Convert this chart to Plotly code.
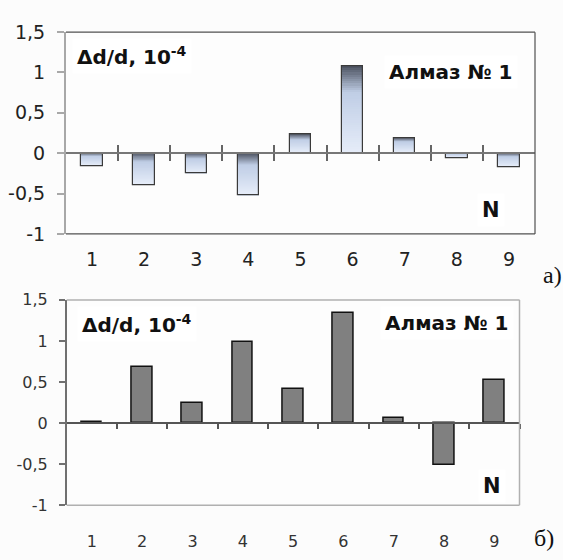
import plotly.graph_objects as go

# Interplanar spacing change per sample point, units of 1e-4
categories = [1, 2, 3, 4, 5, 6, 7, 8, 9]
values_a = [-0.16, -0.39, -0.25, -0.52, 0.23, 1.08, 0.19, -0.06, -0.17]
values_b = [0.02, 0.68, 0.245, 0.99, 0.42, 1.34, 0.067, -0.51, 0.53]

y_tickvals = [-1, -0.5, 0, 0.5, 1, 1.5]
y_ticktext = ["-1", "-0,5", "0", "0,5", "1", "1,5"]
x_ticktext = [str(c) for c in categories]
y_range = [-1, 1.5]

W, H = 563, 560
dom_a_x = [66 / W, 535 / W]
dom_a_y = [(H - 232) / H, (H - 22) / H]
dom_b_x = [66.7 / W, 519.5 / W]
dom_b_y = [(H - 514.4) / H, (H - 300.7) / H]

BAR_W = 0.41
FONT = "DejaVu Sans, Verdana, sans-serif"


def zero_pos(dom):
    return dom[0] + (0 - y_range[0]) / (y_range[1] - y_range[0]) * (dom[1] - dom[0])


def lerp_hex(c1, c2, t):
    a = [int(c1[i:i + 2], 16) for i in (1, 3, 5)]
    b = [int(c2[i:i + 2], 16) for i in (1, 3, 5)]
    return "rgb(%d,%d,%d)" % tuple(round(a[j] + (b[j] - a[j]) * t) for j in range(3))


def shade(t):
    # dark slate at the top of each bar fading to pale blue at the bottom
    stops = [(0.0, "#4a505e"), (0.3, "#bfcde5"), (1.0, "#e6edf9")]
    for (t0, c0), (t1, c1) in zip(stops, stops[1:]):
        if t <= t1:
            return lerp_hex(c0, c1, (t - t0) / (t1 - t0))
    return stops[-1][1]


fig = go.Figure()

# Panel a: bars with a vertical shade, built from stacked slices
N = 40
for k in range(N):
    bases, heights = [], []
    for v in values_a:
        top = max(v, 0)
        h = abs(v) / N
        bases.append(top - (k + 1) * h)
        heights.append(h)
    fig.add_trace(go.Bar(
        x=categories, y=heights, base=bases, width=BAR_W,
        marker=dict(color=shade((k + 0.5) / N), line=dict(width=0)),
        xaxis="x", yaxis="y", showlegend=False, hoverinfo="skip",
    ))
fig.add_trace(go.Bar(
    x=categories, y=values_a, width=BAR_W,
    marker=dict(color="rgba(0,0,0,0)", line=dict(color="#3a3a3a", width=1.2)),
    xaxis="x", yaxis="y", showlegend=False,
))

# Panel b: plain grey bars
fig.add_trace(go.Bar(
    x=categories, y=values_b, width=BAR_W,
    marker=dict(color="#808080", line=dict(color="#111111", width=1.5)),
    xaxis="x2", yaxis="y2", showlegend=False,
))

boundaries = [c + 0.5 for c in categories[:-1]]
boundaries_b = [c + 0.5 for c in categories]

# Invisible carriers so the zero-line axes get drawn
for xa, ya, xs in (("x3", "y", boundaries), ("x5", "y", boundaries), ("x4", "y2", boundaries_b)):
    fig.add_trace(go.Scatter(x=xs, y=[0] * len(xs), mode="markers", opacity=0,
                             xaxis=xa, yaxis=ya, showlegend=False, hoverinfo="skip"))

label_axis = dict(range=[0.5, 9.5], tickmode="array", tickvals=categories,
                  ticktext=x_ticktext, ticks="", showline=False,
                  showgrid=False, zeroline=False)
y_axis = dict(range=y_range, tickmode="array", tickvals=y_tickvals,
              ticktext=y_ticktext, ticks="outside", showline=True,
              showgrid=False, zeroline=False)
zero_axis = dict(range=[0.5, 9.5], tickmode="array", showticklabels=False,
                 showline=True, showgrid=False, zeroline=False, anchor="free")

fig.update_layout(
    width=W, height=H, autosize=False,
    margin=dict(l=0, r=0, t=0, b=0),
    paper_bgcolor="#fcfcfc", plot_bgcolor="#fdfdfd",
    barmode="overlay", bargap=0,
    xaxis=dict(label_axis, domain=dom_a_x, anchor="y",
               tickfont=dict(family=FONT, size=19, color="#222"), ticklabelstandoff=12),
    yaxis=dict(y_axis, domain=dom_a_y, anchor="x",
               linecolor="#a8a8a8", linewidth=2, ticklen=7, tickcolor="#a8a8a8",
               tickwidth=1.5, tickfont=dict(family=FONT, size=19, color="#222"),
               ticklabelstandoff=8),
    xaxis3=dict(zero_axis, domain=dom_a_x, overlaying="x", position=zero_pos(dom_a_y),
                tickvals=boundaries, ticks="outside", ticklen=7, tickwidth=1.5,
                tickcolor="#666", linecolor="#777", linewidth=1.5),
    xaxis5=dict(zero_axis, domain=dom_a_x, overlaying="x", position=zero_pos(dom_a_y),
                tickvals=boundaries, ticks="inside", ticklen=7, tickwidth=1.5,
                tickcolor="#666", linecolor="#777", linewidth=1.5),
    xaxis2=dict(label_axis, domain=dom_b_x, anchor="y2",
                tickfont=dict(family=FONT, size=16, color="#333"), ticklabelstandoff=25),
    yaxis2=dict(y_axis, domain=dom_b_y, anchor="x2",
                linecolor="#707070", linewidth=1.5, ticklen=6, tickcolor="#707070",
                tickwidth=1.5, tickfont=dict(family=FONT, size=16, color="#333"),
                ticklabelstandoff=8),
    xaxis4=dict(zero_axis, domain=dom_b_x, overlaying="x2", position=zero_pos(dom_b_y),
                tickvals=boundaries_b, ticks="outside", ticklen=5, tickwidth=1.5,
                tickcolor="#555", linecolor="#555", linewidth=1.5),
)

# Frame around each plot area (left side comes from the y axis line)
for xr, yr, col, w in (("x", "y", "#505050", 1.2), ("x2", "y2", "#b0b0b0", 1.5)):
    for x0, y0, x1, y1 in ((0, 1, 1, 1), (1, 0, 1, 1), (0, 0, 1, 0)):
        fig.add_shape(type="line", xref=xr + " domain", yref=yr + " domain",
                      x0=x0, y0=y0, x1=x1, y1=y1, line=dict(color=col, width=w))


def note(text, x, y, xanchor="center", size=20):
    fig.add_annotation(text=text, xref="paper", yref="paper", x=x / W, y=1 - y / H,
                       xanchor=xanchor, yanchor="middle", showarrow=False,
                       font=dict(family=FONT, size=size, color="#111"),
                       bgcolor="#ffffff", borderpad=4)


# Panel a labels
note("<b>Δd/d, 10<sup>-4</sup></b>", 72, 47, xanchor="left")
note("<b>Алмаз № 1</b>", 451, 63)
note("<b>N</b>", 491, 207, size=21)
# Panel b labels
note("<b>Δd/d, 10<sup>-4</sup></b>", 77, 326, xanchor="left")
note("<b>Алмаз № 1</b>", 447, 325)
note("<b>N</b>", 492, 494, size=21)

for text, x, y in (("а)", 541, 275), ("б)", 532, 549)):
    fig.add_annotation(text=text, xref="paper", yref="paper", x=x / W, y=1 - y / H,
                       xanchor="left", yanchor="middle", showarrow=False,
                       font=dict(family="Liberation Serif, Times New Roman, serif",
                                 size=24, color="#111"))

fig.write_html("out.html")
